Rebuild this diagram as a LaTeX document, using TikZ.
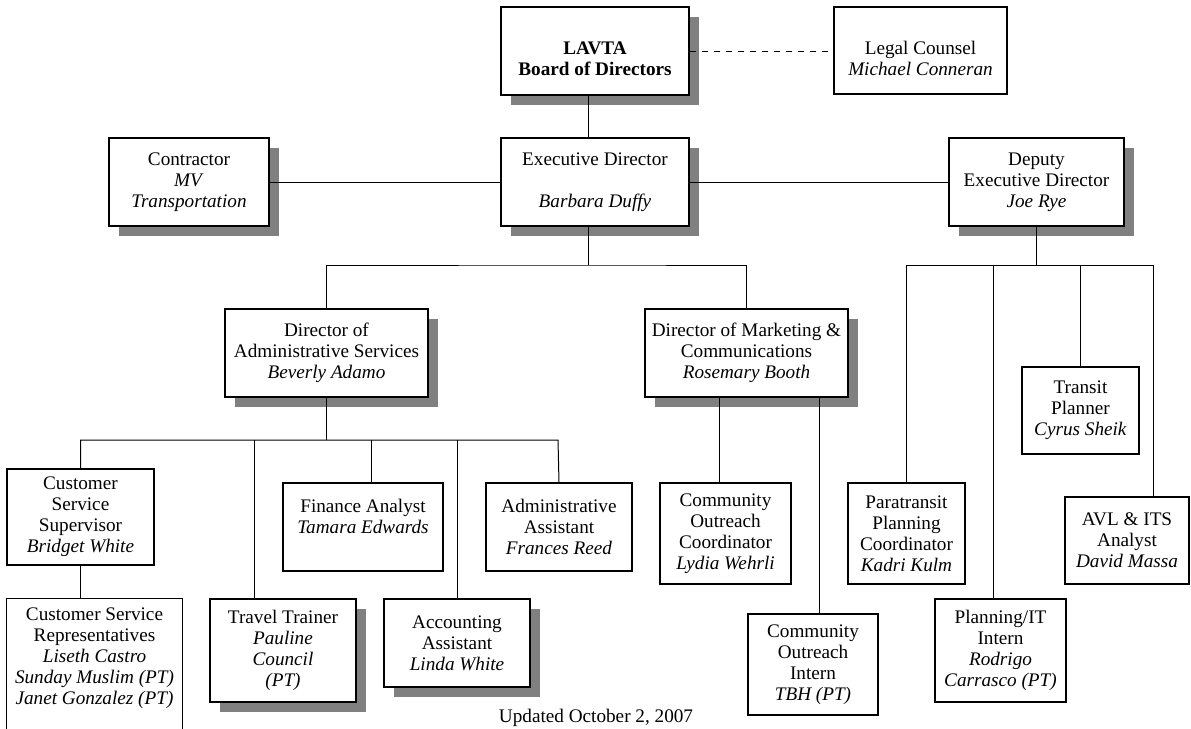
\documentclass[tikz,border=0pt]{standalone}
\usepackage{fontspec}
\setmainfont{Liberation Serif}
\usepackage{tikz}
\usetikzlibrary{
  shadows,
}
\newcommand{\lowertext}[1]{\raisebox{-5pt}[\height][\depth]{\begin{tabular}{@{}c@{}}#1\end{tabular}}}
\tikzset{
  orgbox/.style={
    rectangle, draw=black, line width=0.65pt, fill=white,
    inner sep=2pt, align=center, font=\fontsize{9.6}{10.5}\selectfont,
  },
  shadowbox/.style={
    orgbox,
    drop shadow={shadow xshift=5pt, shadow yshift=-5pt, fill=black!50, opacity=1},
  },
  boxsize/.style 2 args={
    minimum width=#1*0.5pt, minimum height=#2*0.5pt,
  },
  orgline/.style={
    line width=0.5pt, draw=black,
  },
}

\begin{document}
\begin{tikzpicture}[x=0.5pt, y=-0.5pt]

\useasboundingbox (0,0) rectangle (1191,729);
\clip (0,0) rectangle (1191,729);

% top level
\node[shadowbox, boxsize={188}{88}] (board) at (595,51)
  {\lowertext{\textbf{LAVTA}\\\textbf{Board of Directors}}};
\node[orgbox, boxsize={173}{87}] (legal) at (920.5,50.5)
  {\lowertext{Legal Counsel\\\textit{Michael Conneran}}};

\node[shadowbox, boxsize={160}{88}] (contr) at (189,182)
  {Contractor\\\textit{MV}\\\textit{Transportation}};
\node[shadowbox, boxsize={188}{88}] (exec) at (595,182)
  {Executive Director\\[10.5pt]\textit{Barbara Duffy}};
\node[shadowbox, boxsize={175}{88}] (deputy) at (1036.5,182)
  {Deputy\\Executive Director\\\textit{Joe Rye}};

% directors
\node[shadowbox, boxsize={203}{88}] (admdir) at (326.5,353)
  {Director of\\Administrative Services\\\textit{Beverly Adamo}};
\node[shadowbox, boxsize={203}{88}] (mktdir) at (746.5,353)
  {Director of Marketing \&\\Communications\\\textit{Rosemary Booth}};

% administrative services
\node[orgbox, boxsize={147}{96}] (css) at (80.5,517)
  {Customer\\Service\\Supervisor\\\textit{Bridget White}};
\node[orgbox, boxsize={160}{88}] (finan) at (363,527)
  {Finance Analyst\\\textit{Tamara Edwards}\\\mbox{}};
\node[orgbox, boxsize={146}{88}] (aasst) at (559,527)
  {Administrative\\Assistant\\\textit{Frances Reed}};
\node[orgbox, draw=none, fill=none, boxsize={175}{118}] (csr) at (94.5,658)
  {Customer Service\\Representatives\\\textit{Liseth Castro}\\
   \textit{Sunday Muslim (PT)}\\\textit{Janet Gonzalez (PT)}};
\draw[line width=0.65pt] ([yshift=-40pt]csr.south west) -- (csr.north west)
  -- (csr.north east) -- ([yshift=-40pt]csr.south east);
\node[shadowbox, boxsize={146}{103}] (travel) at (283,650.5)
  {Travel Trainer\\\textit{Pauline}\\\textit{Council}\\\textit{(PT)}};
\node[shadowbox, boxsize={146}{88}] (acct) at (457,643)
  {Accounting\\Assistant\\\textit{Linda White}};

% marketing
\node[orgbox, boxsize={131}{101}] (coord) at (725.5,533.5)
  {Community\\Outreach\\Coordinator\\\textit{Lydia Wehrli}};
\node[orgbox, boxsize={130}{101}] (intern) at (813,664.5)
  {Community\\Outreach\\Intern\\\textit{TBH (PT)}};

% deputy
\node[orgbox, boxsize={117}{101}] (para) at (906.5,533.5)
  {Paratransit\\Planning\\Coordinator\\\textit{Kadri Kulm}};
\node[orgbox, boxsize={117}{87}] (tplan) at (1080.5,410.5)
  {Transit\\Planner\\\textit{Cyrus Sheik}};
\node[orgbox, boxsize={124}{87}] (avl) at (1127,540.5)
  {AVL \& ITS\\Analyst\\\textit{David Massa}};
\node[orgbox, boxsize={131}{103}] (pit) at (1000.5,650.5)
  {Planning/IT\\Intern\\\textit{Rodrigo}\\\textit{Carrasco (PT)}};

\node[font=\fontsize{9.6}{10.5}\selectfont] (note) at (596,718) {Updated October 2, 2007};

% junctions
\coordinate (execBus) at (588,265);
\coordinate (depBusR) at (1153,265);
\coordinate (admBusL) at (81,440);
\coordinate (admBusR) at (558,440);
\coordinate (boardOut) at ([xshift=-3.5pt]board.south);
\coordinate (execOut) at ([xshift=-3.5pt]exec.south);
\coordinate (mktA) at ([xshift=-13.75pt]mktdir.south);
\coordinate (mktB) at ([xshift=36.25pt]mktdir.south);
\coordinate (travelIn) at ([xshift=-14.5pt]travel.north);
\coordinate (finanIn) at ([xshift=4pt]finan.north);
\coordinate (pitIn) at ([xshift=-3.75pt]pit.north);

% connectors
\draw[orgline, dashed] (board.east) -- (board.east -| legal.west);
\draw[orgline] (boardOut) -- (boardOut |- exec.north);
\draw[orgline] (contr.east) -- (exec.west);
\draw[orgline] (exec.east) -- (deputy.west);

\draw[orgline] (execOut) -- (execBus);
\draw[orgline] (admdir.north) |- (execBus) -| (mktdir.north);

\draw[orgline] (deputy.south) -- (deputy.south |- depBusR);
\draw[orgline] (para.north) |- (depBusR) -- (avl.north -| depBusR);
\draw[orgline] (tplan.north) -- (tplan.north |- depBusR);
\draw[orgline] (pitIn) -- (pitIn |- depBusR);

\draw[orgline] (admdir.south) -- (admdir.south |- admBusR);
\draw[orgline] (css.north) |- (admBusR) -- (aasst.north);
\draw[orgline] (travelIn) -- (travelIn |- admBusL);
\draw[orgline] (finanIn) -- (finanIn |- admBusL);
\draw[orgline] (acct.north) -- (acct.north |- admBusL);
\draw[orgline] (css.south) -- (css.south |- csr.north);

\draw[orgline] (mktA) -- (mktA |- coord.north);
\draw[orgline] (mktB) -- (mktB |- intern.north);

\end{tikzpicture}
\end{document}
